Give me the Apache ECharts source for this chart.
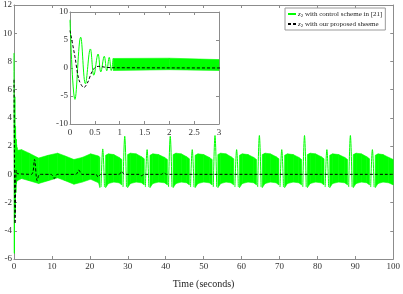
<!DOCTYPE html>
<html><head><meta charset="utf-8">
<script src="https://cdn.jsdelivr.net/npm/echarts@6/dist/echarts.min.js"></script>
<style>html,body{margin:0;padding:0;background:#fff}#c{width:403px;height:294px}</style>
</head><body><div id="c"></div>
<script>
// ---- data ----
const FONT = 'Liberation Serif';
const xTicksMain = [0,10,20,30,40,50,60,70,80,90,100];
const yTicksMain = [-6,-4,-2,0,2,4,6,8,10,12];
const xTicksInset = [0,0.5,1,1.5,2,2.5,3];
const yTicksInset = [-10,-5,0,5,10];

// green (control scheme in [21]) initial transient
const greenT = [0, 0.1, 0.215, 0.31, 0.41, 0.48, 0.565, 0.62, 0.69, 0.74, 0.79, 0.83, 0.87];
const greenV = [8.6, -5.6, 5.5, -2.8, 3.4, -1.3, 2.5, -0.7, 2.1, -0.5, 1.9, -0.45, 1.7];

// green high-frequency band envelope (null = gap at a spike)
const bandT  = [0.87,2,4,6.5,9,11.5,13.5,15.8,18,20.2,22.3,22.65, 23.4,
  24.15,24.9,26.3,27.7,28.45, 29.2, 29.95,30.7,32.2,33.6,34.35, 35.1, 35.85,36.6,38.1,39.7,40.45, 41.2,
  41.95,42.7,44.1,45.5,46.25, 47.0, 47.75,48.5,50.0,51.5,52.25, 53.0, 53.75,54.5,55.9,57.2,57.95, 58.7,
  59.45,60.2,61.7,63.2,63.95, 64.7, 65.45,66.2,67.6,69.1,69.85, 70.6, 71.35,72.1,73.6,75.1,75.85, 76.6,
  77.35,78.1,79.5,81.0,81.75, 82.5, 83.25,84.0,85.6,87.2,87.95, 88.7, 89.45,90.2,91.6,93.0,93.75, 94.5,
  95.25,96.0,97.3,98.8,100];
const bandUp = [1.7,1.75,1.5,1.15,1.35,1.5,1.3,1.05,1.2,1.45,1.3,1.2, null,
  1.35,1.45,1.4,1.2,1.05, null, 1.4,1.5,1.45,1.25,1.1, null, 1.35,1.45,1.4,1.2,1.05, null,
  1.4,1.5,1.45,1.25,1.1, null, 1.35,1.45,1.4,1.2,1.05, null, 1.4,1.5,1.45,1.25,1.1, null,
  1.35,1.45,1.4,1.2,1.05, null, 1.4,1.5,1.45,1.25,1.1, null, 1.35,1.45,1.4,1.2,1.05, null,
  1.4,1.5,1.45,1.25,1.1, null, 1.35,1.45,1.4,1.2,1.05, null, 1.4,1.5,1.45,1.25,1.1, null,
  1.35,1.45,1.4,1.2,1.05];
const bandLo = [-0.45,-0.3,-0.45,-0.65,-0.45,-0.25,-0.45,-0.7,-0.55,-0.35,-0.6,-0.95, null,
  -0.95,-0.65,-0.55,-0.6,-0.75, null, -0.95,-0.65,-0.55,-0.6,-0.75, null, -0.95,-0.65,-0.55,-0.6,-0.75, null,
  -0.95,-0.65,-0.55,-0.6,-0.75, null, -0.95,-0.65,-0.55,-0.6,-0.75, null, -0.95,-0.65,-0.55,-0.6,-0.75, null,
  -0.95,-0.65,-0.55,-0.6,-0.75, null, -0.95,-0.65,-0.55,-0.6,-0.75, null, -0.95,-0.65,-0.55,-0.6,-0.75, null,
  -0.95,-0.65,-0.55,-0.6,-0.75, null, -0.95,-0.65,-0.55,-0.6,-0.75, null, -0.95,-0.65,-0.55,-0.6,-0.75, null,
  -0.95,-0.65,-0.55,-0.6,-0.75];

// green periodic spikes: [time, value] triples, null separates spikes
const spikeT = [22.95,23.4,23.85,null, 28.75,29.2,29.65,null, 34.65,35.1,35.55,null, 40.75,41.2,41.65,null,
  46.55,47.0,47.45,null, 52.55,53.0,53.45,null, 58.25,58.7,59.15,null, 64.25,64.7,65.15,null,
  70.15,70.6,71.05,null, 76.15,76.6,77.05,null, 82.05,82.5,82.95,null, 88.25,88.7,89.15,null, 94.05,94.5,94.95];
const spikeV = [-0.9,1.8,-0.9,null, -0.9,2.7,-0.9,null, -0.9,1.75,-0.9,null, -0.9,2.7,-0.9,null,
  -0.9,1.75,-0.9,null, -0.9,2.75,-0.9,null, -0.9,1.75,-0.9,null, -0.9,2.75,-0.9,null,
  -0.9,1.75,-0.9,null, -0.9,2.75,-0.9,null, -0.9,1.75,-0.9,null, -0.9,2.75,-0.9,null, -0.9,1.75,-0.9];

// black dashed (proposed scheme)
const blackT = [0,0.1,0.18,0.28,0.36,0.43,0.5,0.58,0.7,0.85,4.6,5.4,6.1,6.8,9.8,10.6,11.4,16.3,17.1,17.9,
  21.6,22.2,22.9,27.7,28.4,29.1,33.0,33.6,34.3,38.9,39.5,40.2,100];
const blackV = [6.7,2.0,-2.1,-3.5,-2.5,-0.9,0.05,0.3,0.15,0.05,0.0,1.05,-0.45,0.0,0.0,-0.3,0.0,0.0,0.3,0.0,
  0.0,-0.2,0.0,0.0,0.2,0.0,0.0,-0.1,0.0,0.0,0.1,0.0,0.0];

const nameA = 'z2 with control scheme in [21]';
const nameB = 'z2 with our proposed sheeme';

// ---- build ----
const pair = (T, V) => T.map((t, i) => (t === null || V[i] === null) ? [NaN, '-'] : [t, V[i]]);
const greenMain = pair(greenT, greenV).concat([[NaN,'-']]).concat(pair(spikeT, spikeV));
const greenInset = pair(greenT, greenV);
const blackData = pair(blackT, blackV);
const bandData = bandT.map((t, i) => [t, bandLo[i] === null ? 0 : bandLo[i], bandUp[i] === null ? 0 : bandUp[i]]);

const GREEN = '#00ff00';
const AX = '#8c8c8c';
const lbl = {fontFamily: FONT, fontSize: 9, color: '#333'};

function renderBand(params, api) {
  const i = params.dataIndex;
  if (i >= bandT.length - 1 || bandUp[i] === null || bandUp[i + 1] === null) return null;
  const cs = params.coordSys;
  let pts = [
    api.coord([bandT[i], bandUp[i]]), api.coord([bandT[i + 1], bandUp[i + 1]]),
    api.coord([bandT[i + 1], bandLo[i + 1]]), api.coord([bandT[i], bandLo[i]])
  ];
  if (pts[0][0] > cs.x + cs.width) return null;
  pts = echarts.graphic.clipPointsByRect(pts, cs);
  return {type: 'polygon', shape: {points: pts},
    style: {fill: GREEN, stroke: GREEN, lineWidth: 0.6}};
}

function axisPair(gridIndex, min, max, interval, showLabel, pos, z, extra) {
  return Object.assign({
    type: 'value', gridIndex, min, max, interval, position: pos, z,
    axisLine: {show: true, onZero: false, lineStyle: {color: AX, width: 1}},
    axisTick: {show: true, inside: true, length: 3, lineStyle: {color: AX}},
    splitLine: {show: false},
    axisLabel: Object.assign({show: showLabel, margin: 3}, lbl)
  }, extra || {});
}

const chart = echarts.init(document.getElementById('c'), null, {renderer: 'canvas'});
const option = {
  animation: false,
  backgroundColor: '#fff',
  grid: [
    {left: 10, top: 5, right: 7, bottom: 30, containLabel: false},
    {left: 70, top: 12, width: 149, height: 112, show: true, backgroundColor: '#fff', borderWidth: 0, z: 5}
  ],
  xAxis: [
    axisPair(0, 0, 100, 10, true, 'bottom', 1, {name: 'Time (seconds)', nameLocation: 'middle', nameGap: 20,
      nameTextStyle: {fontFamily: FONT, fontSize: 10, color: '#222'}}),
    axisPair(0, 0, 100, 10, false, 'top', 1),
    axisPair(1, 0, 3, 0.5, true, 'bottom', 6, {axisLabel: Object.assign({show: true, margin: 4}, lbl)}),
    axisPair(1, 0, 3, 0.5, false, 'top', 6)
  ],
  yAxis: [
    axisPair(0, -6, 12, 2, true, 'left', 1, {axisLabel: Object.assign({show: true, margin: 2}, lbl)}),
    axisPair(0, -6, 12, 2, false, 'right', 1),
    axisPair(1, -10, 10, 5, true, 'left', 6, {axisLabel: Object.assign({show: true, margin: 2}, lbl)}),
    axisPair(1, -10, 10, 5, false, 'right', 6)
  ],
  legend: {
    left: 285, top: 8, orient: 'vertical', z: 20,
    data: [nameA, nameB],
    backgroundColor: '#fff', borderColor: '#9a9a9a', borderWidth: 1, borderRadius: 0,
    padding: [2, 3, 2, 2], itemGap: 2, itemWidth: 8, itemHeight: 10,
    itemStyle: {opacity: 0},
    formatter: function (n) {
      return n === nameA ? '{i|z}{s|2} with control scheme in [21]' : '{i|z}{s|2} with our proposed sheeme';
    },
    textStyle: {fontFamily: FONT, fontSize: 7, color: '#222', padding: [0, 0, 0, -3],
      rich: {i: {fontFamily: FONT, fontSize: 7, fontStyle: 'italic', color: '#222'},
             s: {fontFamily: FONT, fontSize: 5, color: '#222', padding: [3, 0, 0, 0]}}}
  },
  series: [
    {name: 'bandMain', type: 'custom', coordinateSystem: 'cartesian2d', xAxisIndex: 0, yAxisIndex: 0,
      data: bandData, encode: {x: 0, y: [1, 2]}, renderItem: renderBand, silent: true, z: 2},
    {name: nameA, type: 'line', xAxisIndex: 0, yAxisIndex: 0, data: greenMain, symbol: 'none', smooth: 0.4,
      connectNulls: false, lineStyle: {color: GREEN, width: 1}, itemStyle: {color: GREEN}, z: 3},
    {name: nameB, type: 'line', xAxisIndex: 0, yAxisIndex: 0, data: blackData, symbol: 'none', smooth: 0.3,
      lineStyle: {color: '#000', width: 1, type: [3, 2]}, itemStyle: {color: '#000'}, z: 4},

    {name: 'bandInset', type: 'custom', coordinateSystem: 'cartesian2d', xAxisIndex: 2, yAxisIndex: 2,
      data: bandData, encode: {x: 0, y: [1, 2]}, renderItem: renderBand, silent: true, z: 7},
    {name: 'greenInset', type: 'line', xAxisIndex: 2, yAxisIndex: 2, data: greenInset, symbol: 'none', smooth: 0.4,
      lineStyle: {color: GREEN, width: 1}, z: 8},
    {name: 'blackInset', type: 'line', xAxisIndex: 2, yAxisIndex: 2, data: blackData, symbol: 'none', smooth: 0.3,
      lineStyle: {color: '#000', width: 1, type: [3, 2]}, z: 9}
  ]
};
chart.setOption(option);
</script>
</body></html>
